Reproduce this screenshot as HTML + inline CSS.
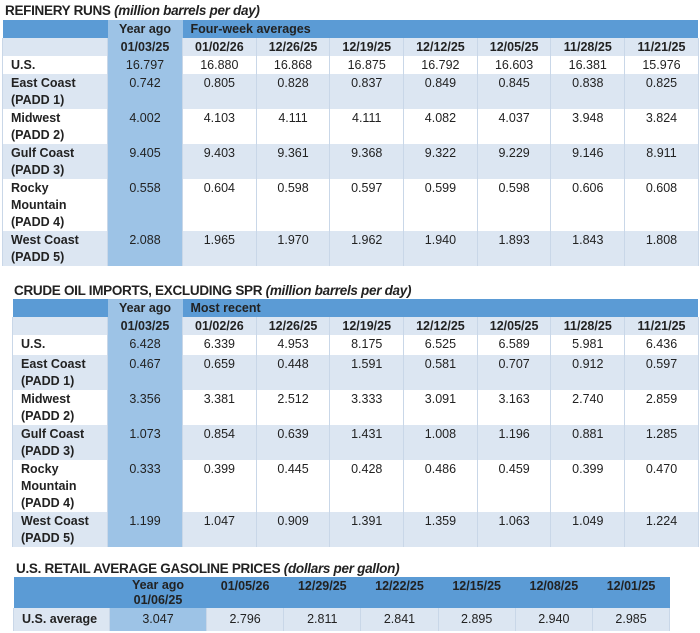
<!DOCTYPE html>
<html><head><meta charset="utf-8"><style>
*{margin:0;padding:0;box-sizing:border-box}
body{width:700px;height:633px;background:#fff;font-family:"Liberation Sans",sans-serif;color:#222;position:relative;overflow:hidden}
.t{position:absolute;font-weight:bold;font-size:13.5px;letter-spacing:-0.3px}
.t i{font-weight:bold}
table{position:absolute;border-collapse:collapse;table-layout:fixed;font-size:12.5px}
td{border-left:1px solid #c9d7e8;border-right:1px solid #c9d7e8;text-align:center;vertical-align:top;padding-top:1px;line-height:17px;overflow:hidden;white-space:nowrap}
td.l{text-align:left;padding-left:8px;font-weight:bold;white-space:nowrap}
tr.h td{background:#5b9bd5;font-weight:bold;text-align:left;padding-left:8px;border:none}
tr.h td.y{background:#9dc3e6;text-align:center;padding-left:0}
tr.d td{background:#dce6f2;font-weight:bold}
tr.a td{background:#dce6f2}
tr.w td{background:#fff}
td.y{background:#9dc3e6 !important}
</style></head><body>
<div class="t" style="left:5px;top:3px">REFINERY RUNS <i>(million barrels per day)</i></div>
<table style="left:2px;top:20px;width:696px">
<colgroup><col style="width:105px"><col style="width:75px"><col span="7" style="width:73.7px"></colgroup>
<tr class="h" style="height:17px"><td></td><td class="y">Year ago</td><td colspan="7">Four-week averages</td></tr>
<tr class="d" style="height:18px"><td></td><td class="y">01/03/25</td><td>01/02/26</td><td>12/26/25</td><td>12/19/25</td><td>12/12/25</td><td>12/05/25</td><td>11/28/25</td><td>11/21/25</td></tr>
<tr class="w" style="height:18px"><td class="l">U.S.</td><td class="y">16.797</td><td>16.880</td><td>16.868</td><td>16.875</td><td>16.792</td><td>16.603</td><td>16.381</td><td>15.976</td></tr>
<tr class="a" style="height:35px"><td class="l">East Coast<br>(PADD 1)</td><td class="y">0.742</td><td>0.805</td><td>0.828</td><td>0.837</td><td>0.849</td><td>0.845</td><td>0.838</td><td>0.825</td></tr>
<tr class="w" style="height:35px"><td class="l">Midwest<br>(PADD 2)</td><td class="y">4.002</td><td>4.103</td><td>4.111</td><td>4.111</td><td>4.082</td><td>4.037</td><td>3.948</td><td>3.824</td></tr>
<tr class="a" style="height:35px"><td class="l">Gulf Coast<br>(PADD 3)</td><td class="y">9.405</td><td>9.403</td><td>9.361</td><td>9.368</td><td>9.322</td><td>9.229</td><td>9.146</td><td>8.911</td></tr>
<tr class="w" style="height:50px"><td class="l">Rocky<br>Mountain<br>(PADD 4)</td><td class="y">0.558</td><td>0.604</td><td>0.598</td><td>0.597</td><td>0.599</td><td>0.598</td><td>0.606</td><td>0.608</td></tr>
<tr class="a" style="height:35px"><td class="l">West Coast<br>(PADD 5)</td><td class="y">2.088</td><td>1.965</td><td>1.970</td><td>1.962</td><td>1.940</td><td>1.893</td><td>1.843</td><td>1.808</td></tr>
</table>

<div class="t" style="left:14px;top:283px">CRUDE OIL IMPORTS, EXCLUDING SPR <i>(million barrels per day)</i></div>
<table style="left:12px;top:299px;width:686px">
<colgroup><col style="width:95px"><col style="width:75px"><col span="7" style="width:73.7px"></colgroup>
<tr class="h" style="height:17px"><td></td><td class="y">Year ago</td><td colspan="7">Most recent</td></tr>
<tr class="d" style="height:17px"><td></td><td class="y">01/03/25</td><td>01/02/26</td><td>12/26/25</td><td>12/19/25</td><td>12/12/25</td><td>12/05/25</td><td>11/28/25</td><td>11/21/25</td></tr>
<tr class="w" style="height:20px"><td class="l">U.S.</td><td class="y">6.428</td><td>6.339</td><td>4.953</td><td>8.175</td><td>6.525</td><td>6.589</td><td>5.981</td><td>6.436</td></tr>
<tr class="a" style="height:35px"><td class="l">East Coast<br>(PADD 1)</td><td class="y">0.467</td><td>0.659</td><td>0.448</td><td>1.591</td><td>0.581</td><td>0.707</td><td>0.912</td><td>0.597</td></tr>
<tr class="w" style="height:35px"><td class="l">Midwest<br>(PADD 2)</td><td class="y">3.356</td><td>3.381</td><td>2.512</td><td>3.333</td><td>3.091</td><td>3.163</td><td>2.740</td><td>2.859</td></tr>
<tr class="a" style="height:35px"><td class="l">Gulf Coast<br>(PADD 3)</td><td class="y">1.073</td><td>0.854</td><td>0.639</td><td>1.431</td><td>1.008</td><td>1.196</td><td>0.881</td><td>1.285</td></tr>
<tr class="w" style="height:50px"><td class="l">Rocky<br>Mountain<br>(PADD 4)</td><td class="y">0.333</td><td>0.399</td><td>0.445</td><td>0.428</td><td>0.486</td><td>0.459</td><td>0.399</td><td>0.470</td></tr>
<tr class="a" style="height:35px"><td class="l">West Coast<br>(PADD 5)</td><td class="y">1.199</td><td>1.047</td><td>0.909</td><td>1.391</td><td>1.359</td><td>1.063</td><td>1.049</td><td>1.224</td></tr>
</table>

<div class="t" style="left:16px;top:561px">U.S. RETAIL AVERAGE GASOLINE PRICES <i>(dollars per gallon)</i></div>
<table style="left:13px;top:577px;width:656px">
<colgroup><col style="width:96px"><col style="width:97px"><col span="6" style="width:77.2px"></colgroup>
<tr class="h" style="height:30px"><td style="border:none"></td><td style="text-align:center;padding-left:0;line-height:15px">Year ago<br>01/06/25</td><td style="text-align:center;padding-left:0">01/05/26</td><td style="text-align:center;padding-left:0">12/29/25</td><td style="text-align:center;padding-left:0">12/22/25</td><td style="text-align:center;padding-left:0">12/15/25</td><td style="text-align:center;padding-left:0">12/08/25</td><td style="text-align:center;padding-left:0">12/01/25</td></tr>
<tr class="a" style="height:23px"><td class="l" style="padding-top:3px">U.S. average</td><td class="y" style="padding-top:3px">3.047</td><td style="padding-top:3px">2.796</td><td style="padding-top:3px">2.811</td><td style="padding-top:3px">2.841</td><td style="padding-top:3px">2.895</td><td style="padding-top:3px">2.940</td><td style="padding-top:3px">2.985</td></tr>
</table>
</body></html>
